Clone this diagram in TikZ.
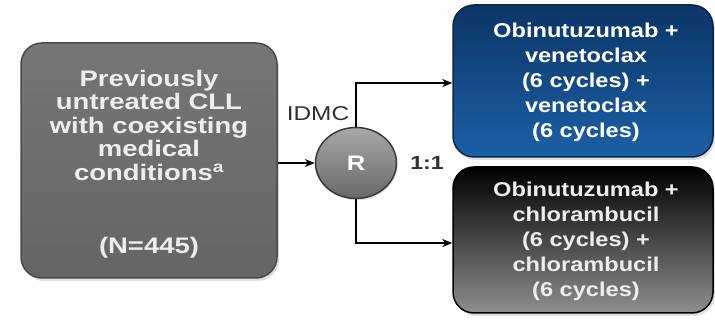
\documentclass[tikz,border=0pt]{standalone}
\usepackage{fontspec}
\setmainfont{Liberation Sans}
\newfontfamily\widefont[FakeStretch=1.22]{Liberation Sans}
\newfontfamily\armfont[FakeStretch=1.18]{Liberation Sans}
\usetikzlibrary{arrows.meta,shadows,shapes.geometric}
\definecolor{lefttop}{HTML}{767676}
\definecolor{leftbot}{HTML}{656565}
\definecolor{leftedge}{HTML}{4A4A4A}
\definecolor{bluetop}{HTML}{0B3566}
\definecolor{bluebot}{HTML}{1C60A6}
\definecolor{blueedge}{HTML}{0A2648}
\definecolor{blacktop}{HTML}{000000}
\definecolor{blackbot}{HTML}{8E8E8E}
\definecolor{randtop}{HTML}{A8A8A8}
\definecolor{randbot}{HTML}{686868}
\definecolor{randedge}{HTML}{3A3A3A}
\definecolor{lighttext}{HTML}{EDEDED}
\definecolor{labeltext}{HTML}{303030}
\begin{document}
\begin{tikzpicture}[x=1pt,y=-1pt,
  box/.style={rounded corners=21pt, line width=1.5pt,
    drop shadow={opacity=0.25, shadow xshift=2pt, shadow yshift=-3pt}},
  conn/.style={line width=2pt, -{Stealth[length=10pt,width=8pt]}},
  lefttxt/.style={text=lighttext, font=\widefont\bfseries\fontsize{22.5}{23.5}\selectfont, align=center},
  armtxt/.style={text=white, font=\armfont\bfseries\fontsize{20}{25}\selectfont, align=center},
  lbl/.style={text=labeltext, font=\widefont\fontsize{20}{22}\selectfont},
]
\useasboundingbox (0,0) rectangle (715,320);

% boxes
\node[box, draw=leftedge, top color=lefttop, bottom color=leftbot,
      minimum width=256pt, minimum height=235pt] (pop) at (149,160.5) {};
\node[box, draw=blueedge, top color=bluetop, bottom color=bluebot,
      minimum width=260pt, minimum height=152pt] (arm1) at (583,81) {};
\node[box, draw=black, top color=blacktop, bottom color=blackbot,
      minimum width=260pt, minimum height=146pt] (arm2) at (583,240) {};
\node[ellipse, draw=randedge, line width=1.5pt, top color=randtop, bottom color=randbot,
      minimum width=81pt, minimum height=71pt, inner sep=0pt,
      drop shadow={opacity=0.2, shadow xshift=1pt, shadow yshift=-2pt}] (rand) at (356,163) {};

% texts
\node[lefttxt] (poptxt) at (149,125) {Previously\\untreated CLL\\with coexisting\\medical\\conditions\textsuperscript{a}};
\node[lefttxt] (ntxt) at (149,248) {(N=445)};
\node[armtxt] (arm1txt) at (586,82) {Obinutuzumab +\\venetoclax\\(6 cycles) +\\venetoclax\\(6 cycles)};
\node[armtxt, text=lighttext] (arm2txt) at (586,241) {Obinutuzumab +\\chlorambucil\\(6 cycles) +\\chlorambucil\\(6 cycles)};
\node[text=white, font=\widefont\bfseries\fontsize{21}{24}\selectfont] (rtxt) at (rand.center) {R};
\node[lbl] (idmc) at (318,114) {IDMC};
\node[lbl, font=\widefont\bfseries\fontsize{19}{22}\selectfont] (ratio) at (427,163) {1:1};

% connectors
\draw[conn] (pop.east |- rand.west) -- (rand.west);
\draw[conn] (rand.north) |- (arm1.west |- 0,83);
\draw[conn] (rand.south) |- (arm2.west |- 0,243);
\end{tikzpicture}
\end{document}
